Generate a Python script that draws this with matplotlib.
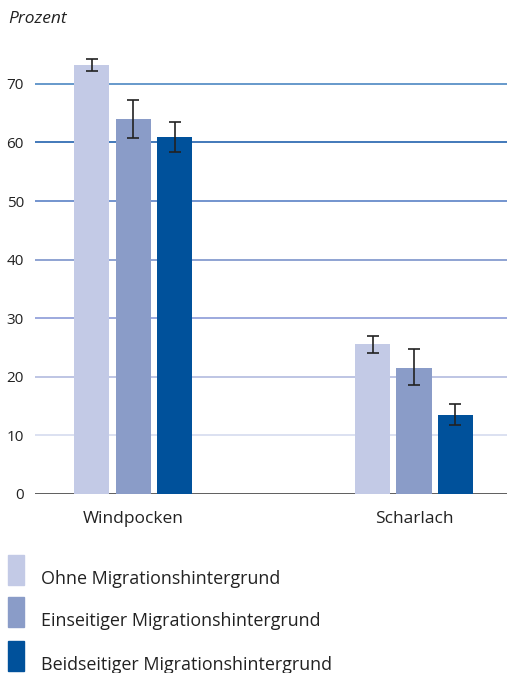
import numpy as np
import matplotlib.pyplot as plt
from matplotlib.patches import Rectangle

# Werte in Prozent mit Konfidenzintervallen
diseases = ["Windpocken", "Scharlach"]
groups = ["Ohne Migrationshintergrund",
          "Einseitiger Migrationshintergrund",
          "Beidseitiger Migrationshintergrund"]
values = [[73.2, 25.6],
          [64.0, 21.5],
          [61.0, 13.5]]
ci_low = [[72.2, 24.0],
          [60.7, 18.6],
          [58.4, 11.7]]
ci_high = [[74.2, 27.0],
           [67.2, 24.8],
           [63.4, 15.3]]
yticks = [0, 10, 20, 30, 40, 50, 60, 70]

colors = ["#c3cae6", "#8a9cc8", "#00519b"]
grid_colors = ["#333333", "#d6dbef", "#b3bbdf", "#8b9bd8", "#7c94cb",
               "#5b82c6", "#2262ae", "#4d88c2"]

plt.rcParams['font.family'] = ['Open Sans', 'DejaVu Sans']

fig = plt.figure(figsize=(5.07, 6.73), dpi=100)
ax = fig.add_axes([0.069, 0.266, 0.931, 0.653])

x = np.arange(len(diseases))
width = 0.1246
step = 0.1477

for y, c in zip(yticks, grid_colors):
    ax.axhline(y, color=c, lw=1.2 if y else 1.1, zorder=1)

for i in range(len(groups)):
    pos = x + (i - 1) * step
    vals = np.array(values[i])
    err = [vals - np.array(ci_low[i]), np.array(ci_high[i]) - vals]
    ax.bar(pos, vals, width, color=colors[i], zorder=2)
    ax.errorbar(pos, vals, yerr=err, fmt="none", ecolor="#222222",
                elinewidth=1.2, capsize=4, capthick=1.2, zorder=3)

ax.set_xlim(-0.349, 1.331)
ax.set_ylim(0, 75)
ax.set_yticks(yticks)
ax.set_yticklabels([str(t) for t in yticks], fontsize=11, color="#222222")
ax.set_xticks(x)
ax.set_xticklabels(diseases, fontsize=12.5, color="#222222")
ax.tick_params(length=0)
ax.tick_params(axis="y", pad=8)
ax.tick_params(axis="x", pad=12)
for s in ax.spines.values():
    s.set_visible(False)

fig.text(0.016, 0.972, "Prozent", fontsize=12.5, style="italic",
         color="#222222", va="center")

# Legende unten
leg_y = [570, 612, 656]
for c, label, yp in zip(colors, groups, leg_y):
    yf = 1 - yp / 673
    fig.patches.append(Rectangle((8 / 507, yf - 15 / 673), 16 / 507, 30 / 673,
                                 color=c, transform=fig.transFigure))
    fig.text(41 / 507, yf - 9 / 673, label, fontsize=12.9, color="#222222",
             va="center")

fig.savefig("out.png", dpi=100)
